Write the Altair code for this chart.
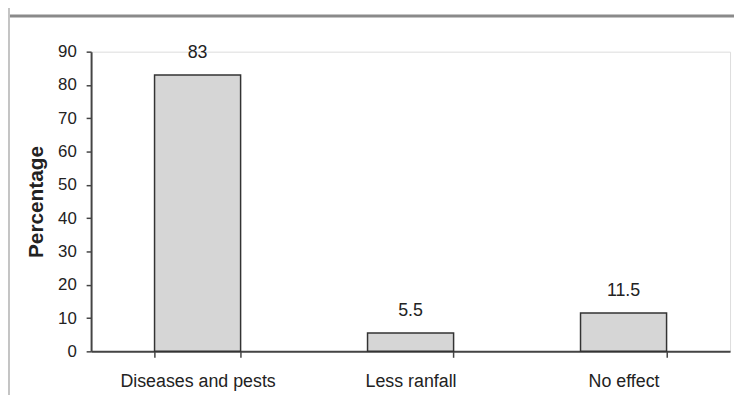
import altair as alt
import pandas as pd

categories = ["Diseases and pests", "Less ranfall", "No effect"]
values = [83, 5.5, 11.5]
labels = ["83", "5.5", "11.5"]
y_ticks = [0, 10, 20, 30, 40, 50, 60, 70, 80, 90]

df = pd.DataFrame({"cause": categories, "pct": values, "label": labels})

FONT = "Liberation Sans, Arial"

x = alt.X(
    "cause:N",
    sort=categories,
    scale=alt.Scale(paddingInner=0.596, paddingOuter=0.298),
    axis=alt.Axis(
        title=None,
        labelAngle=0,
        tickBand="extent",
        tickSize=6,
        labelPadding=16,
        labelFontSize=18,
        labelFont=FONT,
        labelColor="#222",
        domainColor="#444",
        domainWidth=2,
        tickColor="#444",
        tickWidth=1.5,
    ),
)

y = alt.Y(
    "pct:Q",
    scale=alt.Scale(domain=[0, 90], nice=False),
    axis=alt.Axis(
        title="Percentage",
        values=y_ticks,
        tickCount=10,
        labelOverlap=False,
        grid=False,
        tickSize=5,
        labelPadding=10,
        labelFontSize=17,
        labelFont=FONT,
        labelColor="#222",
        titleFont=FONT,
        titleFontSize=21,
        titleFontWeight="bold",
        titleColor="#222",
        titlePadding=11,
        domainColor="#444",
        domainWidth=2,
        tickColor="#444",
        tickWidth=1.5,
    ),
)

base = alt.Chart(df).encode(x=x, y=y)

bars = base.mark_bar(fill="#d6d6d6", stroke="#333", strokeWidth=1.5)

text = base.mark_text(
    baseline="bottom", dy=-13, fontSize=18, font=FONT, color="#222"
).encode(text="label:N")

frame = pd.DataFrame({"k": [0]})
top_line = alt.Chart(frame).mark_rule(color="#8a8a8a", strokeWidth=3).encode(
    x=alt.value(-84), x2=alt.value(650), y=alt.value(-36)
)
left_line = alt.Chart(frame).mark_rule(color="#c4c4c4", strokeWidth=2).encode(
    x=alt.value(-83), y=alt.value(-50), y2=alt.value(347)
)

chart = (
    alt.layer(bars, text, top_line, left_line)
    .properties(
        width=646,
        height=303,
        autosize=alt.AutoSizeParams(type="none"),
        padding={"left": 84, "top": 42, "right": 4, "bottom": 44},
    )
    .configure_view(stroke=None)
    .configure(background="white")
)

chart.save("out.html", embed_options={"renderer": "svg", "actions": False})
